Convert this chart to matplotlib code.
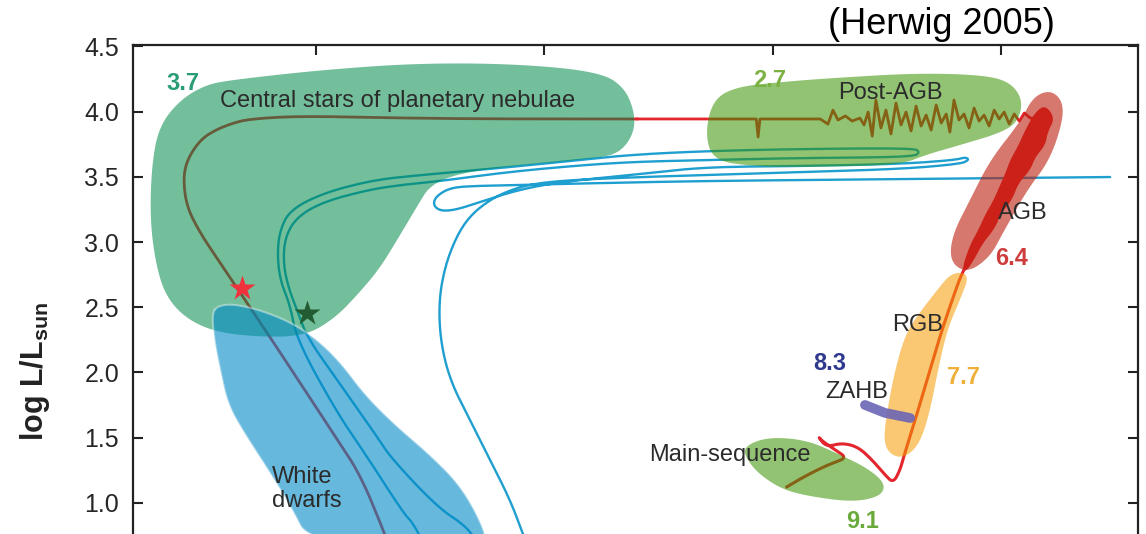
import numpy as np
import matplotlib
matplotlib.use('Agg')
import matplotlib.pyplot as plt

plt.rcParams['font.family'] = ['Liberation Sans', 'DejaVu Sans']
plt.rcParams['mathtext.fontset'] = 'custom'
plt.rcParams['mathtext.rm'] = 'Liberation Sans'
plt.rcParams['mathtext.bf'] = 'Liberation Sans:bold'

# --- оси: log Teff (убывает вправо) и log L/Lsun ---
xticks = [5.0, 4.5, 4.0, 3.5]
yticks = [1.0, 1.5, 2.0, 2.5, 3.0, 3.5, 4.0, 4.5]

# --- области на диаграмме (log Teff, log L) ---
pn_blob = [(5.243, 4.203), (5.188, 4.241), (4.991, 4.318), (4.772, 4.372), (4.553, 4.364),
           (4.378, 4.303), (4.323, 4.180), (4.301, 3.973), (4.306, 3.820), (4.334, 3.690),
           (4.378, 3.644), (4.553, 3.590), (4.685, 3.529), (4.750, 3.437), (4.777, 3.284),
           (4.816, 3.054), (4.860, 2.801), (4.904, 2.617), (4.958, 2.418), (5.024, 2.280),
           (5.123, 2.272), (5.221, 2.310), (5.287, 2.418), (5.331, 2.594), (5.353, 2.862),
           (5.364, 3.207), (5.359, 3.628), (5.342, 3.897), (5.298, 4.088)]
wd_blob = [(5.228, 2.456), (5.215, 2.510), (5.182, 2.525), (5.123, 2.479), (5.057, 2.387),
           (5.002, 2.265), (4.947, 2.081), (4.893, 1.828), (4.827, 1.598), (4.750, 1.368),
           (4.685, 1.138), (4.641, 0.870), (4.623, 0.678), (5.013, 0.678), (5.057, 0.985),
           (5.112, 1.291), (5.155, 1.521), (5.193, 1.751), (5.210, 2.019), (5.223, 2.249)]
postagb_blob = [(4.148, 3.835), (4.131, 4.088), (4.082, 4.188), (3.984, 4.226), (3.868, 4.257),
                (3.684, 4.295), (3.539, 4.280), (3.480, 4.226), (3.452, 4.088), (3.463, 3.920),
                (3.502, 3.835), (3.590, 3.743), (3.666, 3.667), (3.721, 3.590), (3.940, 3.575),
                (4.050, 3.582), (4.131, 3.628)]
agb_blob = [(3.393, 4.165), (3.366, 4.088), (3.364, 3.935), (3.393, 3.628), (3.443, 3.398),
            (3.496, 3.069), (3.524, 2.885), (3.574, 2.762), (3.612, 2.847), (3.607, 3.054),
            (3.568, 3.322), (3.524, 3.628), (3.458, 3.920), (3.430, 4.111)]
agb_core = [(3.403, 4.050), (3.382, 3.950), (3.398, 3.840), (3.403, 3.743), (3.425, 3.650),
            (3.436, 3.552), (3.462, 3.450), (3.476, 3.322), (3.500, 3.220), (3.513, 3.107),
            (3.540, 2.990), (3.557, 2.877), (3.577, 2.770), (3.585, 2.801), (3.568, 2.977),
            (3.550, 3.090), (3.535, 3.207), (3.515, 3.330), (3.502, 3.437), (3.490, 3.530),
            (3.480, 3.628), (3.462, 3.740), (3.447, 3.858), (3.425, 3.996)]
rgb_blob = [(3.607, 2.770), (3.568, 2.755), (3.590, 2.556), (3.618, 2.326), (3.638, 2.019),
            (3.655, 1.713), (3.677, 1.460), (3.710, 1.345), (3.743, 1.368), (3.758, 1.483),
            (3.747, 1.751), (3.732, 2.019), (3.710, 2.287), (3.682, 2.441), (3.640, 2.632)]
ms_blob = [(4.065, 1.429), (4.012, 1.506), (3.925, 1.483), (3.852, 1.368), (3.802, 1.284),
           (3.765, 1.191), (3.754, 1.115), (3.769, 1.046), (3.824, 1.008), (3.912, 1.046),
           (3.977, 1.100), (4.028, 1.215), (4.056, 1.329)]
zahb = [(3.798, 1.751), (3.754, 1.690), (3.699, 1.651)]

# --- эволюционные треки ---
track_ms_agb = [(3.969, 1.123), (3.940, 1.184), (3.907, 1.245), (3.874, 1.299), (3.837, 1.345),
                (3.863, 1.406), (3.892, 1.475), (3.901, 1.513), (3.883, 1.429), (3.848, 1.460),
                (3.813, 1.429), (3.782, 1.329), (3.754, 1.215), (3.736, 1.153), (3.721, 1.253),
                (3.712, 1.368), (3.688, 1.636), (3.662, 1.942), (3.633, 2.287), (3.607, 2.556),
                (3.585, 2.770), (3.557, 2.939), (3.524, 3.130), (3.491, 3.360), (3.458, 3.590),
                (3.425, 3.820), (3.403, 3.996), (3.414, 3.950)]
track_postagb = [(3.414, 3.950), (3.436, 3.950), (3.449, 3.989), (3.460, 3.927), (3.471, 3.981),
                 (3.482, 3.904), (3.493, 3.996), (3.504, 3.943), (3.515, 4.011), (3.526, 3.889),
                 (3.537, 3.973), (3.548, 3.927), (3.559, 4.027), (3.570, 3.874), (3.581, 3.981),
                 (3.592, 3.935), (3.603, 4.088), (3.612, 3.843), (3.620, 3.981), (3.631, 3.912),
                 (3.642, 4.050), (3.653, 3.858), (3.664, 3.973), (3.675, 3.889), (3.686, 4.042),
                 (3.697, 3.851), (3.708, 3.996), (3.719, 3.897), (3.730, 4.065), (3.741, 3.828),
                 (3.752, 4.011), (3.763, 3.874), (3.774, 4.088), (3.782, 3.812), (3.791, 3.996),
                 (3.800, 3.897), (3.809, 3.950), (3.826, 3.927), (3.841, 3.966), (3.857, 3.935),
                 (3.868, 4.011), (3.879, 3.904), (3.896, 3.943), (3.940, 3.943), (4.028, 3.943),
                 (4.032, 3.805), (4.036, 3.943), (4.159, 3.943), (4.297, 3.943)]
track_pn_wd = [(4.297, 3.943), (4.597, 3.943), (4.816, 3.950), (5.035, 3.966), (5.145, 3.943),
               (5.182, 3.912), (5.221, 3.858), (5.254, 3.782), (5.283, 3.628), (5.291, 3.475),
               (5.283, 3.268), (5.254, 3.069), (5.210, 2.839), (5.166, 2.609), (5.107, 2.303),
               (5.035, 1.920), (4.963, 1.536), (4.904, 1.223), (4.853, 0.794), (4.842, 0.678)]
track_b1 = [(4.763, 0.678), (4.788, 0.847), (4.809, 0.923), (4.888, 1.353), (4.954, 1.690),
            (5.042, 2.249), (5.057, 2.517), (5.079, 2.709), (5.085, 2.916), (5.079, 3.092),
            (5.057, 3.245), (4.985, 3.375), (4.875, 3.475), (4.772, 3.513), (4.597, 3.567),
            (4.466, 3.613), (4.319, 3.667), (4.148, 3.697), (3.940, 3.713), (3.693, 3.720),
            (3.677, 3.690), (3.693, 3.651), (3.940, 3.644), (4.148, 3.628), (4.319, 3.613),
            (4.466, 3.575), (4.597, 3.529), (4.728, 3.467), (4.816, 3.437), (4.888, 3.398),
            (4.985, 3.307), (5.042, 3.192), (5.068, 3.038), (5.072, 2.839), (5.061, 2.655),
            (5.042, 2.479), (5.020, 2.272), (4.954, 1.942), (4.866, 1.506), (4.838, 1.353),
            (4.735, 0.969), (4.669, 0.816), (4.645, 0.678)]
track_b2 = [(3.261, 3.498), (3.502, 3.490), (3.721, 3.483), (3.940, 3.475), (4.159, 3.467),
            (4.378, 3.452), (4.553, 3.437), (4.663, 3.429), (4.707, 3.414), (4.737, 3.352),
            (4.744, 3.284), (4.728, 3.238), (4.696, 3.245), (4.647, 3.299), (4.560, 3.398),
            (4.466, 3.460), (4.290, 3.521), (4.148, 3.575), (3.940, 3.582), (3.721, 3.598),
            (3.601, 3.628), (3.577, 3.651), (3.570, 3.628), (3.590, 3.598), (3.721, 3.559),
            (3.940, 3.536), (4.148, 3.513), (4.290, 3.498), (4.444, 3.475), (4.531, 3.444),
            (4.586, 3.383), (4.626, 3.307), (4.663, 3.199), (4.691, 3.054), (4.717, 2.824),
            (4.731, 2.556), (4.728, 2.249), (4.707, 1.942), (4.663, 1.636), (4.619, 1.329),
            (4.575, 1.023), (4.547, 0.762), (4.538, 0.678)]

stars = {'red': (5.162, 2.647), 'green': (5.020, 2.456)}

labels = [('3.7', 5.291, 4.218, '#2a9d78', 'bold', 'center', 'center'),
          ('Central stars of planetary nebulae', 5.210, 4.080, '#2b2b2b', 'normal', 'left', 'center'),
          ('2.7', 4.006, 4.241, '#7bb043', 'bold', 'center', 'center'),
          ('Post-AGB', 3.743, 4.142, '#2b2b2b', 'normal', 'center', 'center'),
          ('AGB', 3.452, 3.222, '#2b2b2b', 'normal', 'center', 'center'),
          ('6.4', 3.476, 2.877, '#cf3c3c', 'bold', 'center', 'center'),
          ('RGB', 3.682, 2.364, '#2b2b2b', 'normal', 'center', 'center'),
          ('8.3', 3.874, 2.065, '#2f3a8f', 'bold', 'center', 'center'),
          ('ZAHB', 3.815, 1.851, '#2b2b2b', 'normal', 'center', 'center'),
          ('7.7', 3.583, 1.958, '#efb03a', 'bold', 'center', 'center'),
          ('Main-sequence', 4.093, 1.364, '#2b2b2b', 'normal', 'center', 'center'),
          ('9.1', 3.804, 0.772, '#6aaa3a', 'bold', 'center', 'bottom'),
          ('White\ndwarfs', 5.096, 1.107, '#2b2b2b', 'normal', 'left', 'center')]


def smooth(pts, closed=True, n=4):
    # сглаживание контура методом Чайкина
    p = np.asarray(pts, float)
    for _ in range(n):
        if closed:
            base, q = p, np.roll(p, -1, axis=0)
        else:
            base, q = p[:-1], p[1:]
        a = 0.75 * base + 0.25 * q
        b = 0.25 * base + 0.75 * q
        mid = np.empty((2 * len(a), 2))
        mid[0::2] = a
        mid[1::2] = b
        p = mid if closed else np.vstack([p[:1], mid, p[-1:]])
    return p


fig = plt.figure(figsize=(11.46, 5.34), dpi=100)
ax = fig.add_axes([133 / 1146, 0, (1138 - 133) / 1146, 1 - 45 / 534])
ax.set_xlim(5.401, 3.200)
ax.set_ylim(0.762, 4.510)

red = '#e3262d'
blue = '#1e9fd0'

# треки под полупрозрачными областями
for tr in (track_b1, track_b2):
    s = smooth(tr, closed=False, n=3)
    ax.plot(s[:, 0], s[:, 1], color=blue, lw=1.7, zorder=1, solid_capstyle='round')
s = smooth(track_ms_agb, closed=False, n=3)
ax.plot(s[:, 0], s[:, 1], color=red, lw=2.2, zorder=1)
s = np.asarray(track_postagb)
ax.plot(s[:, 0], s[:, 1], color=red, lw=2.0, zorder=1)
s = smooth(track_pn_wd, closed=False, n=3)
ax.plot(s[:, 0], s[:, 1], color=red, lw=2.0, zorder=1)
s = smooth(agb_core, n=2)
ax.fill(s[:, 0], s[:, 1], color=red, lw=0, zorder=1)

# области
blobs = [(pn_blob, '#008949', 0.55),
         (wd_blob, '#008ac5', 0.60),
         (postagb_blob, '#379200', 0.55),
         (ms_blob, '#379200', 0.55),
         (agb_blob, '#bc1e0d', 0.60),
         (rgb_blob, '#f69b00', 0.55)]
for pts, c, a in blobs:
    s = smooth(pts)
    ax.fill(s[:, 0], s[:, 1], color=c, alpha=a, lw=0, zorder=2)
s = smooth(wd_blob)
ax.plot(np.r_[s[:, 0], s[0, 0]], np.r_[s[:, 1], s[0, 1]], color='white', alpha=0.4, lw=1.5, zorder=2)

z = np.asarray(zahb)
ax.plot(z[:, 0], z[:, 1], color='#6b66b5', lw=7, solid_capstyle='round', alpha=0.9, zorder=3)

ax.plot(*stars['red'], marker='*', ms=19, color='#f0323c', mec='none', zorder=4)
ax.plot(*stars['green'], marker='*', ms=19, color='#235c32', mec='none', zorder=4)

for txt, x, y, c, w, ha, va in labels:
    ax.text(x, y, txt, color=c, fontsize=17, fontweight=w, ha=ha, va=va,
            linespacing=1.15, zorder=5)

# оформление осей
ax.spines['bottom'].set_visible(False)
for sp in ('left', 'right', 'top'):
    ax.spines[sp].set_linewidth(1.6)
    ax.spines[sp].set_color('#222222')
ax.set_yticks(yticks)
ax.set_yticklabels([f'{v:.1f}' for v in yticks])
ax.set_xticks(xticks)
ax.tick_params(axis='y', direction='in', length=7, width=1.5, labelsize=18, pad=10,
               left=True, right=True, labelcolor='#262626', color='#222222')
ax.tick_params(axis='x', direction='in', length=7, width=1.5, top=True, bottom=False,
               labelbottom=False, labeltop=False, color='#222222')

fig.text(35 / 1146, 1 - 372 / 534, r'log L/L$_{\mathbf{sun}}$', rotation=90, fontsize=22,
         fontweight='bold', ha='center', va='center', color='#222222')
fig.text(941 / 1146, 1 - 24 / 534, '(Herwig 2005)', fontsize=26, ha='center', va='center',
         color='black')

fig.savefig('out.png', dpi=100)
